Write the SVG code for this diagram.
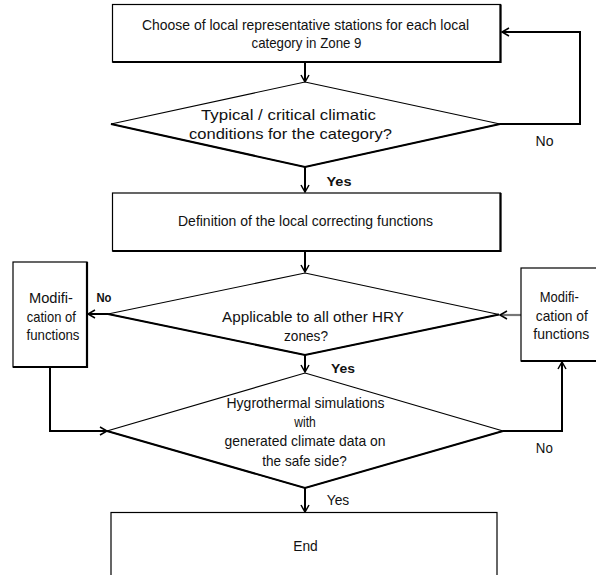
<svg xmlns="http://www.w3.org/2000/svg" width="596" height="575" viewBox="0 0 596 575">
<defs>
<style>
.bg{fill:#ffffff}
.box{fill:#ffffff;stroke:#000;stroke-width:1.2}
.edge{fill:none;stroke:#000;stroke-width:2.2}
.dia{fill:#ffffff;stroke:#000;stroke-width:1.1}
.diaLow{fill:none;stroke:#000;stroke-width:2}
.conn{fill:none;stroke:#000;stroke-width:2;marker-end:url(#arr)}
.connGray{fill:none;stroke:#777;stroke-width:2.2;marker-end:url(#arr)}
text{font-family:"Liberation Sans",Arial,sans-serif;font-size:15px;fill:#111;text-anchor:middle}
.lbl{font-size:14px}
.bold{font-weight:bold;font-size:13px}
</style>
<marker id="arr" markerUnits="userSpaceOnUse" markerWidth="12" markerHeight="12" viewBox="0 0 12 12" refX="10" refY="6" orient="auto">
<path d="M3,2 L10,6 L3,10" fill="none" stroke="#000" stroke-width="1.5"/>
</marker>
</defs>
<rect class="bg" x="0" y="0" width="596" height="575"/>

<g id="connectors">
<path class="conn" d="M305,62 V82"/>
<path class="conn" d="M500,124 H580 V32 H502"/>
<path class="conn" d="M305,167 V192"/>
<path class="conn" d="M305,251 V272"/>
<path class="conn" d="M108,314 H88"/>
<path class="connGray" d="M521,315 H500"/>
<path class="conn" d="M305,355 V372"/>
<path class="conn" d="M50,367 V431 H107"/>
<path class="conn" d="M503,431 H562 V362"/>
<path class="conn" d="M305,488 V512"/>
</g>

<g id="box1">
<rect class="box" x="112.5" y="4.5" width="388" height="57.5"/>
<path class="edge" d="M112.5,62 H500.5 V4.5"/>
<text x="305.5" y="30" textLength="327" lengthAdjust="spacingAndGlyphs">Choose of local representative stations for each local</text>
<text x="306.5" y="48" textLength="110" lengthAdjust="spacingAndGlyphs">category in Zone 9</text>
</g>

<g id="decision1">
<polygon class="dia" points="305,82 500,124 305,167 111,124"/>
<path class="diaLow" d="M111,124 L305,167 L500,124"/>
<text x="288.5" y="120" textLength="175" lengthAdjust="spacingAndGlyphs">Typical / critical climatic</text>
<text x="290.5" y="138.5" textLength="203" lengthAdjust="spacingAndGlyphs">conditions for the category?</text>
</g>

<g id="label-no-1"><text class="lbl" x="544.5" y="146" textLength="18" lengthAdjust="spacingAndGlyphs">No</text></g>
<g id="label-yes-1"><text class="bold" x="339" y="186" textLength="25" lengthAdjust="spacingAndGlyphs">Yes</text></g>

<g id="box2">
<rect class="box" x="112.5" y="193" width="388" height="58"/>
<path class="edge" d="M112.5,251 H500.5 V193"/>
<text x="305.5" y="226" textLength="255" lengthAdjust="spacingAndGlyphs">Definition of the local correcting functions</text>
</g>

<g id="decision2">
<polygon class="dia" points="305,273 499,314.5 305,355 108,314"/>
<path class="diaLow" d="M108,314 L305,355 L499,314.5"/>
<text x="313" y="322" textLength="182" lengthAdjust="spacingAndGlyphs">Applicable to all other HRY</text>
<text x="306" y="341" textLength="44" lengthAdjust="spacingAndGlyphs">zones?</text>
</g>

<g id="label-no-2"><text class="bold" x="104" y="302" textLength="15" lengthAdjust="spacingAndGlyphs">No</text></g>
<g id="label-yes-2"><text class="bold" x="343" y="373" textLength="24" lengthAdjust="spacingAndGlyphs">Yes</text></g>

<g id="modify-left">
<rect class="box" x="13" y="262" width="74" height="105"/>
<path class="edge" d="M13,367 H87 V262"/>
<text x="51" y="303" textLength="44" lengthAdjust="spacingAndGlyphs">Modifi-</text>
<text x="51.3" y="321.5" textLength="49" lengthAdjust="spacingAndGlyphs">cation of</text>
<text x="53" y="340" textLength="53" lengthAdjust="spacingAndGlyphs">functions</text>
</g>

<g id="modify-right">
<rect class="box" x="521" y="268" width="78" height="93"/>
<path class="edge" d="M521,361 H599"/>
<text x="559.3" y="301.5" textLength="39" lengthAdjust="spacingAndGlyphs">Modifi-</text>
<text x="561.8" y="320.5" textLength="52" lengthAdjust="spacingAndGlyphs">cation of</text>
<text x="561.3" y="338.5" textLength="56" lengthAdjust="spacingAndGlyphs">functions</text>
</g>

<g id="decision3">
<polygon class="dia" points="305,373 503,431 305,488 107,431"/>
<path class="diaLow" d="M107,431 L305,488 L503,431"/>
<text x="305.5" y="408" textLength="158" lengthAdjust="spacingAndGlyphs">Hygrothermal simulations</text>
<text x="305" y="427" textLength="21.5" lengthAdjust="spacingAndGlyphs">with</text>
<text x="305" y="446" textLength="161" lengthAdjust="spacingAndGlyphs">generated climate data on</text>
<text x="304.5" y="466" textLength="84.5" lengthAdjust="spacingAndGlyphs">the safe side?</text>
</g>

<g id="label-no-3"><text class="lbl" x="544.3" y="453" textLength="17" lengthAdjust="spacingAndGlyphs">No</text></g>
<g id="label-yes-3"><text class="lbl" x="338" y="505" textLength="22.5" lengthAdjust="spacingAndGlyphs">Yes</text></g>

<g id="end">
<rect class="box" x="111" y="512.5" width="386" height="75"/>
<text x="305.5" y="551" textLength="24.5" lengthAdjust="spacingAndGlyphs">End</text>
</g>
</svg>
